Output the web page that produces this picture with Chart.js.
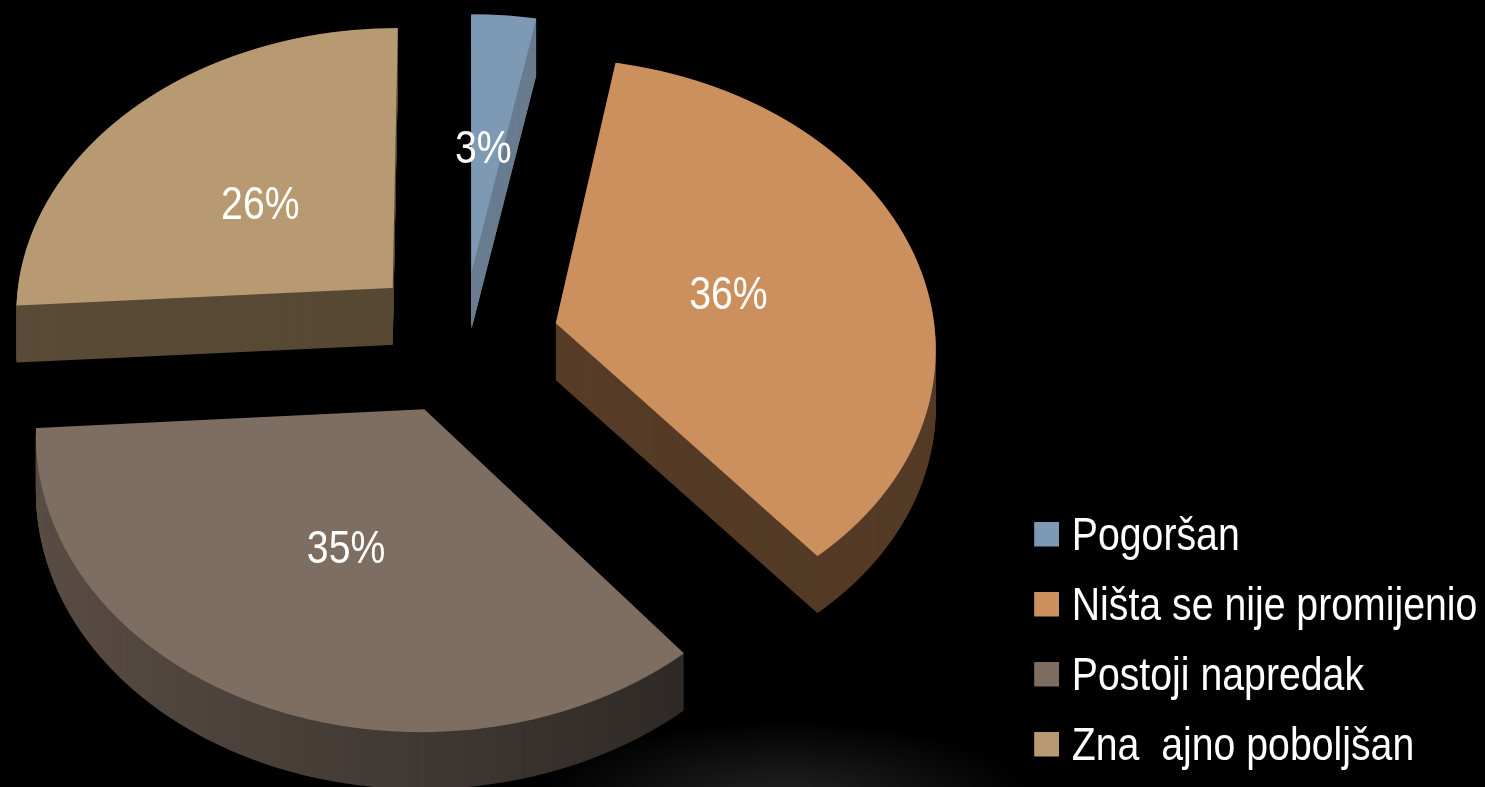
<!DOCTYPE html>
<html>
<head>
<meta charset="utf-8">
<style>
  html, body { margin: 0; height: 100%; overflow: hidden;
    background: radial-gradient(ellipse 250px 80px at 785px 800px, #232323, #000 100%), #000; }
  canvas { display: block; }
</style>
<script src="https://cdn.jsdelivr.net/npm/chart.js@4"></script>
</head>
<body>
<canvas id="pie" width="1485" height="787"></canvas>
<script>
const categories = ['Pogoršan', 'Ništa se nije promijenio', 'Postoji napredak', 'Zna  ajno poboljšan'];
const percents = [3, 36, 35, 26];

const faceColors = ['#7e99b3', '#cc905f', '#7e6d61', '#b79a72'];
const sideLeft = ['#72889d', '#5f432c', '#5c4f46', '#5a4b37'];
const sideRight = ['#66788a', '#553b26', '#2e2926', '#54462f'];
const explode = [92, 90, 98, 102];
const nudge = [-3, 3, -2, 0];      // sideways, after the explode
const labelDx = [-5, -8, 3, -1];
const labelDy = [11, 8, -1, 12];

const fontName = '"Liberation Sans", sans-serif';
const narrow = 0.853;              // no narrow arial here, squeeze the text instead
const W = 1485, H = 787;

// fake 3d: pie lies on a plane, seen with a tilt and a bit of perspective
const cx = 466, cy = 340, tilt = 0.756, persp = 0.0002, depth = 57, stripH = 2;

function project(u, v) {
  const w = 1 - persp * v;
  return { x: cx + u / w, y: cy + tilt * v / w };
}

function explodeOffset(arc, i) {
  const mid = (arc.startAngle + arc.endAngle) / 2;
  return { u: Math.cos(mid) * explode[i] + nudge[i], v: Math.sin(mid) * explode[i] };
}

// draw one arc through the projection, one horizontal strip of the canvas at a time
function drawProjected(ctx, arc, i, color) {
  const el = Object.create(arc);
  el.options = Object.assign({}, arc.options, { backgroundColor: color, borderColor: color, borderWidth: 0 });
  const off = explodeOffset(arc, i);
  for (let y0 = 0; y0 < H; y0 += stripH) {
    const Y = y0 + stripH / 2 - cy;
    const v = Y / (tilt + persp * Y);
    const w = 1 - persp * v;
    const dv = tilt / Math.pow(tilt + persp * Y, 2);
    ctx.save();
    ctx.beginPath();
    ctx.rect(0, y0, W, stripH);
    ctx.clip();
    ctx.translate(cx, cy + Y);
    ctx.scale(1 / w, 1 / dv);
    ctx.translate(-arc.x + off.u, -arc.y - v + off.v);
    el.draw(ctx);
    ctx.restore();
  }
}

const pie3d = {
  id: 'pie3d',
  beforeDraw(chart) {
    // squeeze the legend too, the box is made wider to make up for it
    const legend = chart.legend;
    if (legend.squeezed) return;
    const draw = legend.draw;
    legend.draw = function () {
      const ctx = chart.ctx;
      ctx.save();
      ctx.translate(1018 - legend.left * narrow, 7);
      ctx.scale(narrow, 1);
      draw.call(legend);
      ctx.restore();
    };
    legend.squeezed = true;
  },
  beforeDatasetDraw(chart) {
    const ctx = chart.ctx;
    const arcs = chart.getDatasetMeta(0).data;
    arcs.forEach((arc, i) => {
      const sil = document.createElement('canvas');
      sil.width = W; sil.height = H;
      const sctx = sil.getContext('2d');
      drawProjected(sctx, arc, i, '#000');
      // side wall colour, darker to the right
      const grad = sctx.createLinearGradient(0, 0, 700, 0);
      grad.addColorStop(0, sideLeft[i]);
      grad.addColorStop(1, sideRight[i]);
      sctx.globalCompositeOperation = 'source-in';
      sctx.fillStyle = grad;
      sctx.fillRect(0, 0, W, H);
      for (let d = depth; d > 0; d--) ctx.drawImage(sil, 0, d);
      drawProjected(ctx, arc, i, faceColors[i]);
    });
    return false;
  },
  afterDatasetsDraw(chart) {
    const ctx = chart.ctx;
    chart.getDatasetMeta(0).data.forEach((arc, i) => {
      const off = explodeOffset(arc, i);
      const pos = arc.tooltipPosition();
      const p = project(pos.x - arc.x + off.u, pos.y - arc.y + off.v);
      ctx.save();
      ctx.fillStyle = '#fff';
      ctx.font = '46px ' + fontName;
      ctx.textAlign = 'center';
      ctx.textBaseline = 'middle';
      ctx.translate(p.x + labelDx[i], p.y + labelDy[i]);
      ctx.scale(narrow, 1);
      ctx.fillText(percents[i] + '%', 0, 0);
      ctx.restore();
    });
  }
};

// legend marker with room on its left, puts the text closer to the box than chart.js would
function legendMarker(color) {
  const c = document.createElement('canvas');
  c.width = 32; c.height = 31;
  const g = c.getContext('2d');
  g.fillStyle = color;
  g.fillRect(3, 0, 29, 25);
  return c;
}

new Chart(document.getElementById('pie'), {
  type: 'pie',
  data: {
    labels: categories,
    datasets: [{ data: percents, backgroundColor: faceColors, borderWidth: 0 }]
  },
  options: {
    responsive: false,
    animation: false,
    radius: 380,
    events: [],
    layout: { padding: { right: 8, bottom: 0 } },
    plugins: {
      tooltip: { enabled: false },
      legend: {
        position: 'right',
        align: 'end',
        labels: {
          color: '#fff',
          font: { family: fontName, size: 46 },
          padding: 24,
          usePointStyle: true,
          pointStyleWidth: 16,
          generateLabels(chart) {
            const items = Chart.overrides.pie.plugins.legend.labels.generateLabels(chart);
            items.forEach((it, i) => { it.pointStyle = legendMarker(faceColors[i]); });
            return items;
          }
        }
      }
    }
  },
  plugins: [pie3d]
});
</script>
</body>
</html>
